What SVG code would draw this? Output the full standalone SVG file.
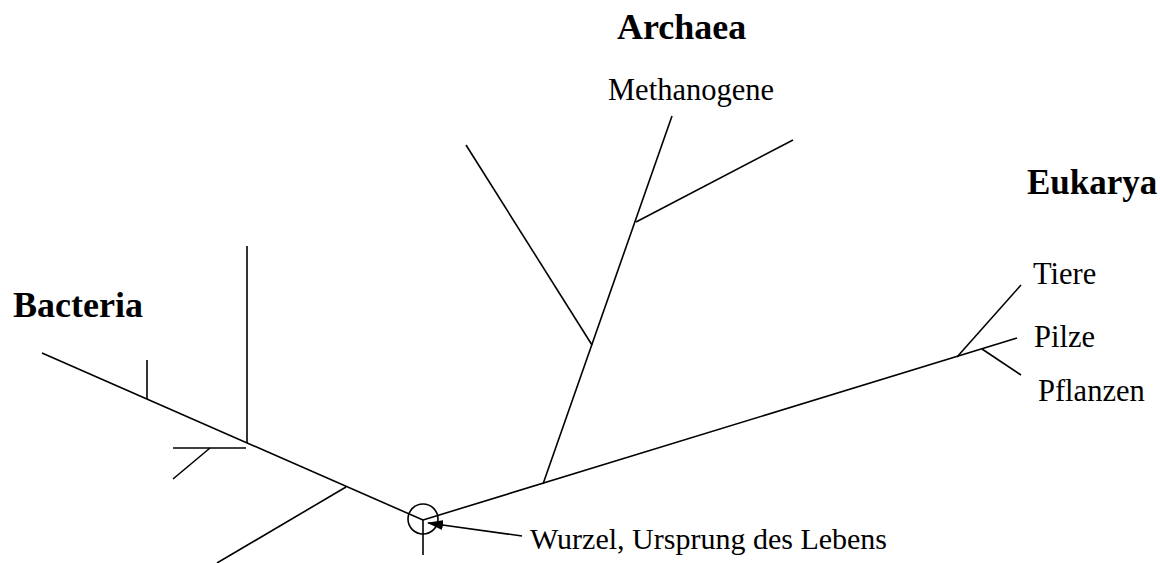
<svg xmlns="http://www.w3.org/2000/svg" width="1160" height="563" viewBox="0 0 1160 563">
<style>
.br{stroke:#000;stroke-width:1.6;fill:none;stroke-linecap:butt}
.dom{font-family:"Liberation Serif","Times New Roman",serif;font-weight:bold;font-size:36px;fill:#000}
.lbl{font-family:"Liberation Serif","Times New Roman",serif;font-size:30.5px;fill:#000}
</style>
<defs>
<marker id="ah" markerWidth="16" markerHeight="10" refX="15" refY="5" orient="auto" markerUnits="userSpaceOnUse">
<path d="M0,0 L16,5 L0,10 Z" fill="#000"/>
</marker>
</defs>
<rect width="1160" height="563" fill="#fff"/>
<g id="connectors">
<g id="bacteria-branches">
<line class="br" x1="423" y1="520" x2="42" y2="353"/>
<line class="br" x1="147" y1="399" x2="147" y2="360"/>
<line class="br" x1="247" y1="443" x2="247" y2="246"/>
<line class="br" x1="246" y1="448" x2="173" y2="448"/>
<line class="br" x1="210" y1="448" x2="173" y2="479"/>
<line class="br" x1="346" y1="487" x2="217" y2="563"/>
</g>
<g id="archaea-branches">
<line class="br" x1="543" y1="484" x2="672" y2="116"/>
<line class="br" x1="592" y1="345" x2="466" y2="145"/>
<line class="br" x1="636" y1="222" x2="793" y2="140"/>
</g>
<g id="eukarya-branches">
<line class="br" x1="423" y1="520" x2="1017" y2="338"/>
<line class="br" x1="957" y1="357" x2="1021" y2="285"/>
<line class="br" x1="982" y1="349" x2="1021" y2="375"/>
</g>
<line class="br" x1="423" y1="520" x2="423" y2="555"/>
<line class="br" x1="522" y1="536" x2="428" y2="523" marker-end="url(#ah)"/>
</g>
<g id="root">
<circle cx="423" cy="519" r="15" class="br"/>
<text class="lbl" x="530" y="549" style="font-size:30px">Wurzel, Ursprung des Lebens</text>
</g>
<g id="bacteria"><text class="dom" x="13" y="317">Bacteria</text></g>
<g id="archaea"><text class="dom" x="617" y="39">Archaea</text></g>
<g id="methanogene"><text class="lbl" x="608" y="100">Methanogene</text></g>
<g id="eukarya"><text class="dom" x="1027" y="194" style="font-size:35px">Eukarya</text></g>
<g id="tiere"><text class="lbl" x="1033" y="284">Tiere</text></g>
<g id="pilze"><text class="lbl" x="1034" y="347">Pilze</text></g>
<g id="pflanzen"><text class="lbl" x="1038" y="401">Pflanzen</text></g>
</svg>
